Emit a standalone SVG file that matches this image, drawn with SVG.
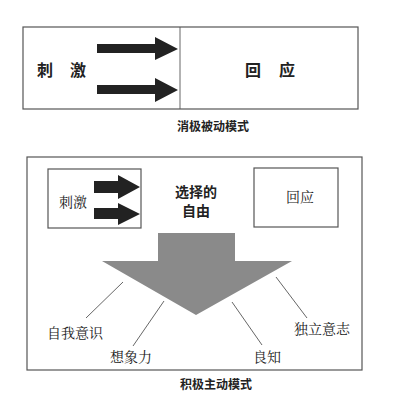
<svg xmlns="http://www.w3.org/2000/svg" width="408" height="417" viewBox="0 0 408 417">
<style>
.box{fill:#fff;stroke:#555;stroke-width:1.2}
.arr{fill:#222}
.ln{stroke:#555;stroke-width:0.9;fill:none}
.bs{font-family:"Noto Sans CJK SC","Noto Sans",sans-serif;font-weight:bold;fill:#222}
.sf{font-family:"Noto Serif CJK SC","Noto Sans CJK SC",serif;fill:#222}
</style>
<rect width="408" height="417" fill="#fff"/>
<g id="passive">
<rect class="box" x="23" y="27" width="335" height="82"/>
<line class="ln" x1="180" y1="27" x2="180" y2="109" stroke-width="1.2"/>
<text class="bs" x="37" y="76" font-size="16" font-weight="bold">刺</text>
<text class="bs" x="70" y="76" font-size="16">激</text>
<text class="bs" x="245" y="76" font-size="16">回</text>
<text class="bs" x="279" y="76" font-size="16">应</text>
<text class="bs" x="213" y="131" font-size="12" text-anchor="middle">消极被动模式</text>
</g>
<g id="passive-arrows">
<polygon class="arr" points="97,44 155,44 155,37 178,49 155,60 155,53 97,53"/>
<polygon class="arr" points="97,85 155,85 155,78 178,90 155,102 155,94 97,94"/>
</g>
<g id="active">
<rect class="box" x="27" y="157" width="335" height="213"/>
<text class="bs" x="216" y="389" font-size="12" text-anchor="middle">积极主动模式</text>
</g>
<g id="stimulus">
<rect class="box" x="48" y="169" width="93" height="59"/>
<text class="sf" x="59" y="207" font-size="14">刺激</text>
</g>
<g id="freedom">
<text class="bs" x="196" y="197" font-size="14" text-anchor="middle">选择的</text>
<text class="bs" x="196" y="216" font-size="14" text-anchor="middle">自由</text>
</g>
<g id="response">
<rect class="box" x="254" y="168" width="84" height="59"/>
<text class="sf" x="286" y="202" font-size="14">回应</text>
</g>
<g id="big-arrow">
<polygon fill="#8a8a8a" points="158,233 235,233 235,261 292,261 196,315 102,261 158,261"/>
</g>
<g id="connectors">
<polygon class="arr" points="94,181 118,181 118,175 140,187 118,199 118,193 94,193"/>
<polygon class="arr" points="94,208 118,208 118,203 140,214 118,225 118,219 94,219"/>
<line class="ln" x1="123" y1="282" x2="86" y2="318"/>
<line class="ln" x1="164" y1="301" x2="133" y2="346"/>
<line class="ln" x1="232" y1="302" x2="262" y2="345"/>
<line class="ln" x1="276" y1="277" x2="307" y2="318"/>
</g>
<g id="labels">
<text class="sf" x="47" y="338" font-size="14">自我意识</text>
<text class="sf" x="110" y="362" font-size="14">想象力</text>
<text class="sf" x="253" y="362" font-size="14">良知</text>
<text class="sf" x="294" y="334" font-size="14">独立意志</text>
</g>
</svg>
